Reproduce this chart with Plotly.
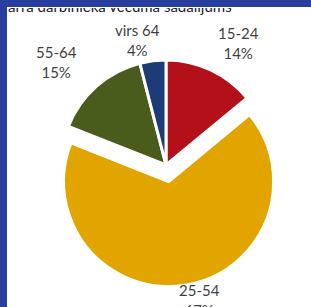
import plotly.graph_objects as go

# ---- data ----
categories = ["15-24", "25-54", "55-64", "virs 64"]
shares = [14, 67, 15, 4]
title_text = "arra darbinieka vecuma sadalījums"

# ---- style ----
slice_colors = ["#B3101A", "#E2A500", "#4A5C1C", "#1D3B74"]
pulls = [0, 0.16, 0, 0]
border_blue = "#283F9D"
W, H = 311, 307

# label centres in pixels (style/positions only)
label_pos = {"15-24": (238, 43), "25-54": (199, 300), "55-64": (56, 62), "virs 64": (137, 40)}

def px(x, y):
    return x / W, 1 - y / H

fig = go.Figure(go.Pie(
    labels=categories,
    values=shares,
    sort=False,
    direction="clockwise",
    rotation=0,
    pull=pulls,
    textinfo="none",
    hoverinfo="label+percent",
    marker=dict(colors=slice_colors, line=dict(color="white", width=3)),
    domain=dict(x=[44.2 / W, 287.8 / W], y=[1 - 286.8 / H, 1 - 43.2 / H]),
    showlegend=False,
))

annotations = []
for cat, val in zip(categories, shares):
    cx, cy = label_pos[cat]
    xp, yp = px(cx, cy)
    annotations.append(dict(
        x=xp, y=yp, xref="paper", yref="paper",
        text=f"{cat}<br>{val}%", showarrow=False,
        xanchor="center", yanchor="middle", align="center",
        font=dict(family="Lato", size=15, color="#3F3F3F"),
    ))

tx, ty = px(7, 7)
annotations.append(dict(
    x=tx, y=ty, xref="paper", yref="paper",
    text=title_text, showarrow=False,
    xanchor="left", yanchor="top", align="left", valign="bottom",
    width=300, height=7, borderpad=0,
    font=dict(family="Lato", size=15, color="#222222"),
))

fig.update_layout(
    width=W, height=H,
    margin=dict(l=0, r=0, t=0, b=0),
    paper_bgcolor="white",
    annotations=annotations,
    shapes=[
        dict(type="rect", xref="paper", yref="paper", x0=0, x1=7 / W, y0=0, y1=1,
             fillcolor=border_blue, line=dict(width=0), layer="above"),
        dict(type="rect", xref="paper", yref="paper", x0=0, x1=1, y0=1 - 7 / H, y1=1,
             fillcolor=border_blue, line=dict(width=0), layer="above"),
    ],
)

fig.write_html(
    "out.html",
    config={"displayModeBar": False},
    post_script="document.body.style.margin='0';document.body.style.overflow='hidden';",
)
